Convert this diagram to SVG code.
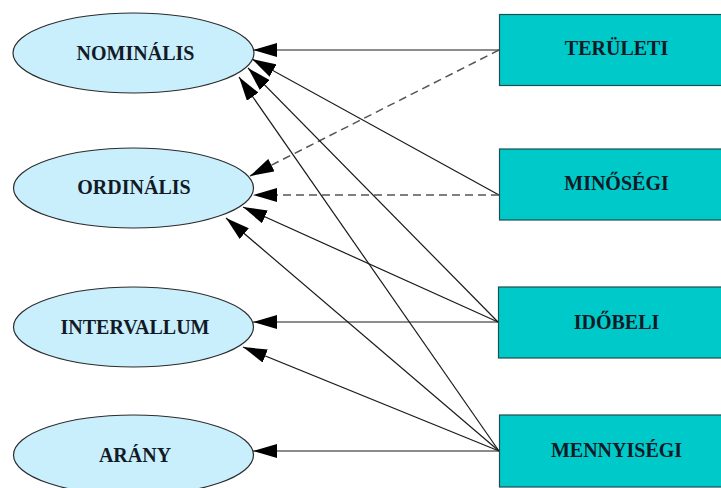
<svg xmlns="http://www.w3.org/2000/svg" width="721" height="488" viewBox="0 0 721 488">
  <style>
    .scale ellipse { fill: #c9effd; stroke: #2b2b2b; stroke-width: 1.2; }
    .kind rect { fill: #00c9c9; stroke: #1f4f4f; stroke-width: 1.2; }
    text { font-family: "Liberation Serif", "Times New Roman", serif; font-weight: bold; font-size: 20px; fill: #121a26; text-anchor: middle; dominant-baseline: central; }
    .edge { fill: none; stroke: #1a1a1a; stroke-width: 1.2; marker-end: url(#head); }
    .edge.dashed { stroke: #555; stroke-width: 1.5; stroke-dasharray: 8 5; }
  </style>
  <defs>
    <marker id="head" markerUnits="userSpaceOnUse" markerWidth="24" markerHeight="14" viewBox="0 0 24 14" refX="24" refY="7" orient="auto">
      <path d="M0,0 L24,7 L0,14 z" fill="#000"/>
    </marker>
  </defs>
  <rect width="721" height="488" fill="#fff"/>

  <!-- connectors: each data kind points to the measurement scales it supports -->
  <g id="connectors">
    <path class="edge" d="M499,50 L253,50"/>
    <path class="edge dashed" d="M499,50 L250,176"/>
    <path class="edge" d="M499,195 L252,59"/>
    <path class="edge dashed" d="M499,195 L253,195"/>
    <path class="edge" d="M498,322 L248,68"/>
    <path class="edge" d="M498,322 L243,207"/>
    <path class="edge" d="M498,322 L253,322"/>
    <path class="edge" d="M499,451 L239,77"/>
    <path class="edge" d="M499,451 L226,218"/>
    <path class="edge" d="M499,451 L243,347"/>
    <path class="edge" d="M499,451 L253,451"/>
  </g>

  <!-- measurement scales -->
  <g id="nominalis" class="scale">
    <ellipse cx="133.5" cy="53" rx="120.5" ry="40"/>
    <text x="135.5" y="53">NOMINÁLIS</text>
  </g>
  <g id="ordinalis" class="scale">
    <ellipse cx="133.5" cy="188" rx="120" ry="40"/>
    <text x="134" y="187">ORDINÁLIS</text>
  </g>
  <g id="intervallum" class="scale">
    <ellipse cx="133.5" cy="327" rx="120" ry="40"/>
    <text x="135" y="327">INTERVALLUM</text>
  </g>
  <g id="arany" class="scale">
    <ellipse cx="133.5" cy="455" rx="120" ry="40"/>
    <text x="135" y="455">ARÁNY</text>
  </g>

  <!-- data kinds -->
  <g id="teruleti" class="kind">
    <rect x="499.5" y="14.5" width="240" height="71"/>
    <text x="616.5" y="48">TERÜLETI</text>
  </g>
  <g id="minosegi" class="kind">
    <rect x="499.5" y="149" width="240" height="71"/>
    <text x="616.5" y="183">MINŐSÉGI</text>
  </g>
  <g id="idobeli" class="kind">
    <rect x="498.5" y="287" width="240" height="71"/>
    <text x="616.5" y="322">IDŐBELI</text>
  </g>
  <g id="mennyisegi" class="kind">
    <rect x="499.5" y="415" width="240" height="72"/>
    <text x="616.5" y="450">MENNYISÉGI</text>
  </g>
</svg>
